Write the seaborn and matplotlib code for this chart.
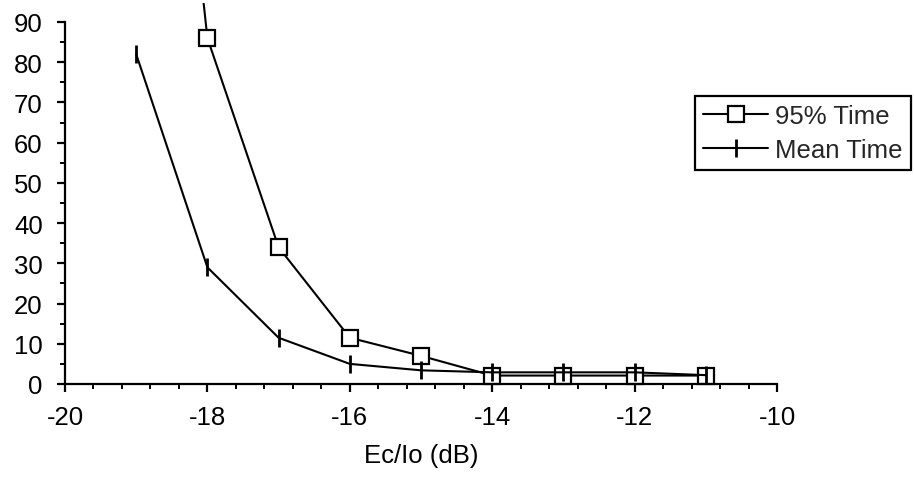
import matplotlib
matplotlib.use("Agg")
import matplotlib.pyplot as plt
from matplotlib.patches import Rectangle
from matplotlib.ticker import MultipleLocator
import pandas as pd
import seaborn as sns

# Acquisition time versus pilot Ec/Io
ec_io = [-19, -18, -17, -16, -15, -14, -13, -12, -11]
time_95 = [250, 86, 34, 11.5, 7, 2.1, 2.1, 2.1, 2.1]
time_mean = [82, 29, 11.5, 5, 3.4, 2.9, 2.9, 2.9, 2.2]
series_names = ["95% Time", "Mean Time"]

sns.set_theme(style="white")
plt.rcParams["font.family"] = ["Liberation Sans", "DejaVu Sans"]
plt.rcParams["axes.unicode_minus"] = False

FS = 18.5
W, H = 914, 481
fig = plt.figure(figsize=(W / 100, H / 100), dpi=100)
ax = fig.add_axes([65 / W, 1 - 385 / H, (777 - 65) / W, (385 - 23) / H])

df = pd.DataFrame({"x": ec_io, "p95": time_95, "mean": time_mean})

sns.lineplot(data=df, x="x", y="p95", ax=ax, color="black", linewidth=1.5,
             marker="s", markersize=11.5, markerfacecolor="white",
             markeredgecolor="black", markeredgewidth=1.6,
             label=series_names[0])
sns.lineplot(data=df, x="x", y="mean", ax=ax, color="black", linewidth=1.5,
             marker="|", markersize=12.5, markeredgecolor="black",
             markeredgewidth=2.0, label=series_names[1])

# let lines run slightly above the plot area, up to the figure edge
clip = Rectangle((0, 0), 1, 1 - 4 / H, transform=fig.transFigure,
                 facecolor="none", edgecolor="none")
fig.add_artist(clip)
clip.set_visible(False)
for ln in ax.lines:
    ln.set_clip_path(clip)

ax.set_xlim(-20, -10)
ax.set_ylim(0, 90)
ax.xaxis.set_major_locator(MultipleLocator(2))
ax.xaxis.set_minor_locator(MultipleLocator(0.4))
ax.yaxis.set_major_locator(MultipleLocator(10))
ax.yaxis.set_minor_locator(MultipleLocator(5))

for s in ["top", "right"]:
    ax.spines[s].set_visible(False)
for s in ["left", "bottom"]:
    ax.spines[s].set_color("black")
    ax.spines[s].set_linewidth(1.6)

ax.tick_params(which="major", direction="out", length=6, width=1.6,
               color="black", labelsize=FS, labelcolor="black",
               bottom=True, left=True)
ax.tick_params(axis="y", which="major", pad=10)
ax.tick_params(axis="x", which="major", pad=9)
ax.tick_params(which="minor", direction="out", length=3.5, width=1.4,
               color="black", bottom=True, left=True)

ax.set_xlabel("Ec/Io (dB)", fontsize=FS, color="black", labelpad=10)
ax.set_ylabel("")

leg = ax.legend(loc="upper left", bbox_to_anchor=(695 / W, 1 - 97 / H),
                bbox_transform=fig.transFigure, borderaxespad=0,
                fontsize=FS, frameon=True, fancybox=False, handlelength=2.5,
                handletextpad=0.3, borderpad=0.33, labelspacing=0.36)
leg.get_frame().set_edgecolor("black")
leg.get_frame().set_linewidth(1.6)
leg.get_frame().set_alpha(1)

fig.savefig("out.png", dpi=100)
